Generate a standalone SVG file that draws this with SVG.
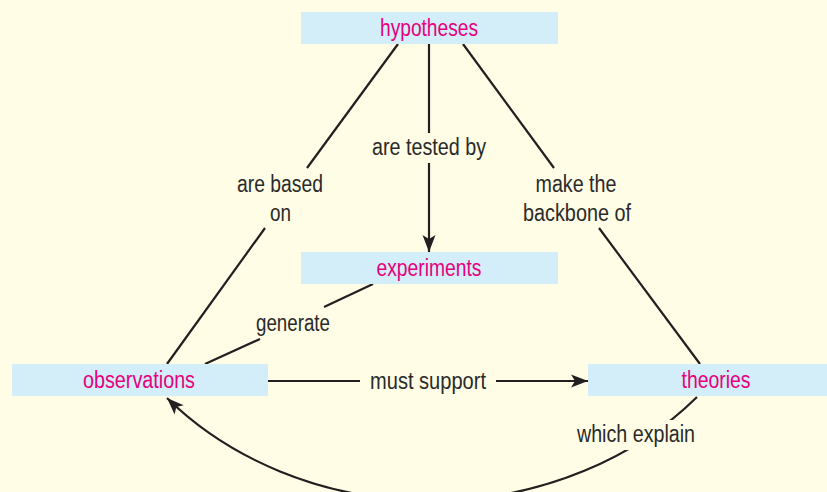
<svg xmlns="http://www.w3.org/2000/svg" width="827" height="492" viewBox="0 0 827 492">
<style>
.bg{fill:#fffde6}
.box{fill:#d3edf9}
.nt{font-family:"Liberation Sans Narrow","Liberation Sans",Arial,sans-serif;font-size:23px;fill:#e6007e;text-anchor:middle}
.lt{font-family:"Liberation Sans Narrow","Liberation Sans",Arial,sans-serif;font-size:23px;fill:#2a2a2a;text-anchor:middle}
.ln{fill:none;stroke:#231f20;stroke-width:2.2}
</style>
<defs>
<marker id="ah" markerUnits="userSpaceOnUse" markerWidth="20" markerHeight="14" viewBox="-18 -7 20 14" refX="0" refY="0" orient="auto">
<path d="M0,0 L-17,-6.5 L-13,0 L-17,6.5 Z" fill="#231f20"/>
</marker>
</defs>
<rect class="bg" x="0" y="0" width="827" height="492"/>
<g id="connectors">
<line class="ln" x1="398" y1="44" x2="307" y2="168"/>
<line class="ln" x1="265" y1="228" x2="167" y2="364"/>
<line class="ln" x1="429" y1="44" x2="429" y2="133"/>
<line class="ln" x1="429" y1="163" x2="429" y2="252" marker-end="url(#ah)"/>
<line class="ln" x1="463" y1="44" x2="554" y2="168"/>
<line class="ln" x1="599" y1="228" x2="700" y2="364"/>
<line class="ln" x1="373" y1="284" x2="324" y2="307"/>
<line class="ln" x1="260" y1="339" x2="205" y2="364"/>
<line class="ln" x1="268" y1="381" x2="360" y2="381"/>
<line class="ln" x1="496" y1="381" x2="588" y2="381" marker-end="url(#ah)"/>
<path class="ln" d="M697,397 A351,300 0 0 1 167,398" marker-end="url(#ah)"/>
<rect class="bg" x="572" y="420" width="130" height="30"/>
</g>
<g id="hypotheses"><rect class="box" x="301" y="12" width="257" height="32"/><text class="nt" x="429" y="36" textLength="98" lengthAdjust="spacingAndGlyphs">hypotheses</text></g>
<g id="experiments"><rect class="box" x="301" y="252" width="257" height="32"/><text class="nt" x="429" y="276" textLength="105" lengthAdjust="spacingAndGlyphs">experiments</text></g>
<g id="observations"><rect class="box" x="12" y="364" width="256" height="32"/><text class="nt" x="139" y="388" textLength="112" lengthAdjust="spacingAndGlyphs">observations</text></g>
<g id="theories"><rect class="box" x="588" y="364" width="260" height="32"/><text class="nt" x="716" y="388" textLength="69" lengthAdjust="spacingAndGlyphs">theories</text></g>
<g id="labels">
<text class="lt" x="280" y="192" textLength="86" lengthAdjust="spacingAndGlyphs">are based</text>
<text class="lt" x="280.5" y="221" textLength="21" lengthAdjust="spacingAndGlyphs">on</text>
<text class="lt" x="429" y="155" textLength="114" lengthAdjust="spacingAndGlyphs">are tested by</text>
<text class="lt" x="576" y="192" textLength="81" lengthAdjust="spacingAndGlyphs">make the</text>
<text class="lt" x="577" y="221" textLength="108" lengthAdjust="spacingAndGlyphs">backbone of</text>
<text class="lt" x="293" y="331" textLength="74" lengthAdjust="spacingAndGlyphs">generate</text>
<text class="lt" x="428" y="389" textLength="116" lengthAdjust="spacingAndGlyphs">must support</text>
<text class="lt" x="636" y="442" textLength="118" lengthAdjust="spacingAndGlyphs">which explain</text>
</g>
</svg>
